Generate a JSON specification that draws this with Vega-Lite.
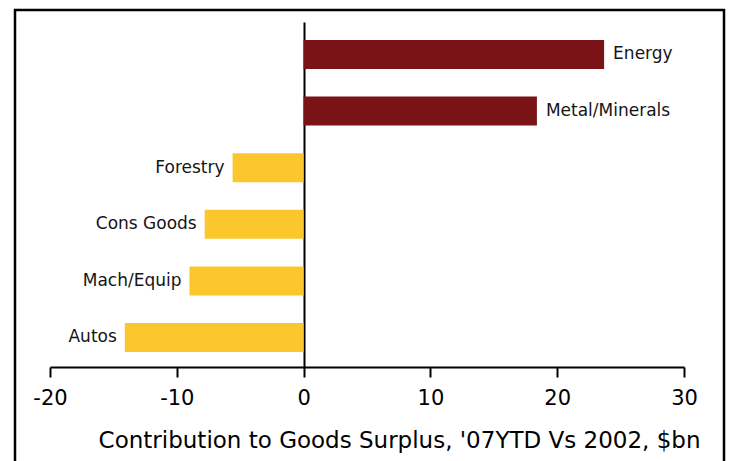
{
  "$schema": "https://vega.github.io/schema/vega-lite/v6.json",
  "width": 709,
  "height": 460,
  "autosize": {"type": "none"},
  "padding": {"left": 15, "top": 10, "right": 6, "bottom": 0},
  "background": "white",
  "config": {
    "view": {"stroke": "black", "strokeWidth": 2.5},
    "font": "DejaVu Sans",
    "axis": {"grid": false, "labelFont": "DejaVu Sans", "titleFont": "DejaVu Sans"}
  },
  "data": {
    "values": [
      {"cat": "Energy", "v": 23.7},
      {"cat": "Metal/Minerals", "v": 18.4},
      {"cat": "Forestry", "v": -5.6},
      {"cat": "Cons Goods", "v": -7.8},
      {"cat": "Mach/Equip", "v": -9.0},
      {"cat": "Autos", "v": -14.1}
    ]
  },
  "encoding": {
    "y": {
      "field": "cat",
      "type": "nominal",
      "sort": null,
      "scale": {"range": [12, 357], "paddingInner": 0.4876, "paddingOuter": 0.2915, "align": 0.545},
      "axis": {
        "orient": "left",
        "offset": -289,
        "labels": false,
        "ticks": false,
        "title": null,
        "domainColor": "black",
        "domainWidth": 2
      }
    },
    "x": {
      "field": "v",
      "type": "quantitative",
      "scale": {"domain": [-20, 30], "range": [35, 669], "nice": false},
      "axis": {
        "orient": "bottom",
        "offset": -103,
        "values": [-20, -10, 0, 10, 20, 30],
        "labelExpr": "'' + datum.value",
        "labelFlush": false,
        "tickSize": 10,
        "tickWidth": 2,
        "tickColor": "black",
        "domainColor": "black",
        "domainWidth": 2,
        "labelFontSize": 21,
        "labelColor": "black",
        "labelPadding": 10,
        "labelOverlap": false,
        "title": "Contribution to Goods Surplus, '07YTD Vs 2002, $bn",
        "titleFontSize": 23,
        "titleFontWeight": "normal",
        "titleColor": "black",
        "titlePadding": 21,
        "titleX": 685,
        "titleAlign": "right"
      }
    }
  },
  "layer": [
    {
      "mark": {"type": "bar"},
      "encoding": {
        "color": {"condition": {"test": "datum.v > 0", "value": "#7A1315"}, "value": "#FBC72C"}
      }
    },
    {
      "transform": [{"filter": "datum.v > 0"}],
      "mark": {"type": "text", "align": "left", "dx": 9, "fontSize": 17, "color": "#151515", "baseline": "middle"},
      "encoding": {"text": {"field": "cat"}}
    },
    {
      "transform": [{"filter": "datum.v < 0"}],
      "mark": {"type": "text", "align": "right", "dx": -8, "fontSize": 17, "color": "#151515", "baseline": "middle"},
      "encoding": {"text": {"field": "cat"}}
    }
  ]
}
